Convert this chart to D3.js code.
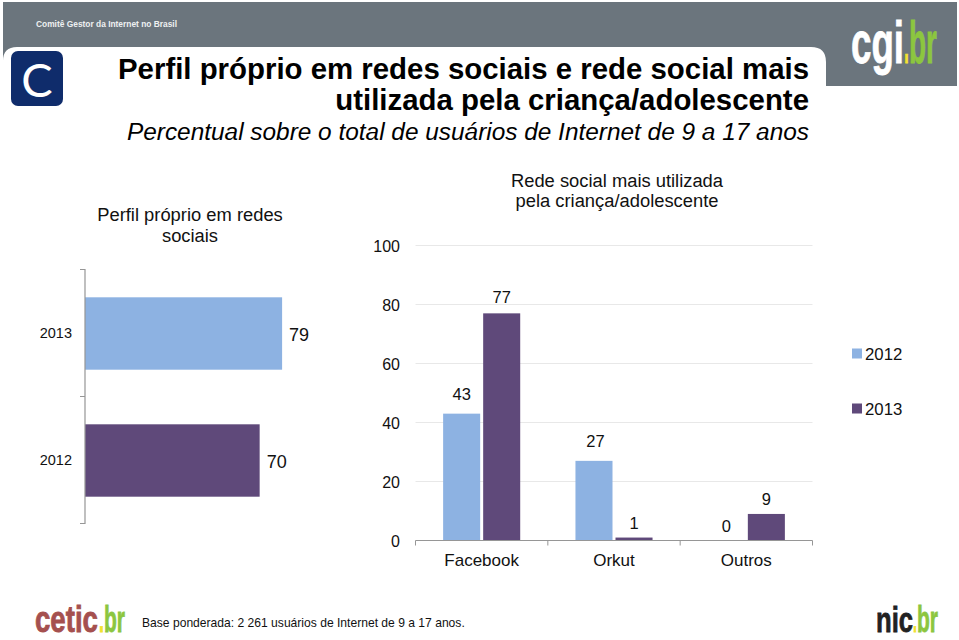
<!DOCTYPE html>
<html><head><meta charset="utf-8">
<script src="https://cdn.jsdelivr.net/npm/d3@7"></script>
<style>html,body{margin:0;padding:0;background:#fff}svg{display:block}text{font-family:"Liberation Sans",Arial,sans-serif;fill:#111}</style>
</head><body><svg id="c" width="959" height="640"></svg>
<script>
const barYears = ["2013","2012"];
const barValues = [79,70];
const networks = ["Facebook","Orkut","Outros"];
const series2012 = [43,27,0];
const series2013 = [77,1,9];
const legendYears = ["2012","2013"];
const yTicks = [0,20,40,60,80,100];
const lightBlue = "#8DB2E2", purple = "#5F497A", gray = "#6B757D";

const svg = d3.select("#c");
// header
svg.append("path").attr("fill",gray)
  .attr("d","M3,2H957V86H826V62Q826,47 811,47H17Q3,47 3,61Z");
svg.append("text").attr("x",36).attr("y",27).attr("font-size",8.4).attr("font-weight","bold")
  .style("fill","#eef0f1").text("Comitê Gestor da Internet no Brasil");
svg.append("rect").attr("x",11).attr("y",51).attr("width",52).attr("height",55).attr("rx",7).attr("fill","#0F2C6B");
svg.append("text").attr("x",37).attr("y",97).attr("text-anchor","middle").attr("font-size",47)
  .style("font-family","Lato").style("fill","#fff").text("C");
// logos: each part is its own text, squeezed to its width so the parts do not overlap
const logo=(parts,baseline,size)=>parts.forEach(p=>{
  const t=svg.append("text").attr("font-size",size).attr("font-weight","bold")
    .style("font-family","'Liberation Sans Narrow','Liberation Sans',sans-serif")
    .style("fill",p.c).style("stroke",p.c).style("stroke-width",0.8).text(p.t);
  const natural=t.node().getComputedTextLength();
  t.attr("transform",`translate(${p.x},${baseline}) scale(${p.w/natural},1)`);
});
logo([{t:"cgi",x:851,w:53,c:"#fff"},{t:".",x:904,w:5,c:"#F2E230"},{t:"br",x:909,w:28,c:"#8CC63F"}],63,59);
logo([{t:"cetic",x:35,w:63,c:"#A5504F"},{t:".",x:99,w:5,c:"#F2E230"},{t:"br",x:104,w:21,c:"#8CC63F"}],632,36);
logo([{t:"nic",x:876,w:37,c:"#222"},{t:".",x:913,w:4,c:"#F2E230"},{t:"br",x:917,w:21,c:"#8CC63F"}],632,36);

// titles
const title=[["Perfil próprio em redes sociais e rede social mais",79,29.4,"bold","normal"],
 ["utilizada pela criança/adolescente",110,29.4,"bold","normal"],
 ["Percentual sobre o total de usuários de Internet de 9 a 17 anos",140,24.4,"normal","italic"]];
title.forEach(d=>svg.append("text").attr("x",809).attr("y",d[1]).attr("text-anchor","end")
  .attr("font-size",d[2]).attr("font-weight",d[3]).attr("font-style",d[4]).style("fill","#000").text(d[0]));

// chart titles
[["Perfil próprio em redes",190,221],["sociais",190,242],
 ["Rede social mais utilizada",617,187],["pela criança/adolescente",617,207]].forEach(d=>
  svg.append("text").attr("x",d[1]).attr("y",d[2]).attr("text-anchor","middle").attr("font-size",18.35).text(d[0]));

// left chart
const xL = d3.scaleLinear().domain([0,100]).range([85,334.5]);
const yL = d3.scaleBand().domain(barYears).range([270,524]).paddingInner(0.43).paddingOuter(0.215);
const colorL = d3.scaleOrdinal().domain(barYears).range([lightBlue,purple]);
const gL = svg.append("g");
gL.selectAll("rect").data(barYears).join("rect")
  .attr("x",xL(0)).attr("y",d=>yL(d)).attr("height",yL.bandwidth())
  .attr("width",(d,i)=>xL(barValues[i])-xL(0)).attr("fill",d=>colorL(d));
const axL = d3.scaleBand().domain(barYears).range([269.5,523.5]);
gL.append("path").attr("fill","none").attr("stroke","#969696").attr("stroke-width",1.2)
  .attr("d",`M80,269.5H85V523.5H80M80,${axL("2012")}H85`);
gL.selectAll("text.cat").data(barYears).join("text").attr("class","cat")
  .attr("x",72).attr("y",d=>yL(d)+yL.bandwidth()/2+4.5).attr("text-anchor","end").attr("font-size",14.5).text(d=>d);
gL.selectAll("text.val").data(barYears).join("text").attr("class","val")
  .attr("x",(d,i)=>xL(barValues[i])+7).attr("y",d=>yL(d)+yL.bandwidth()/2+7).attr("font-size",18)
  .text((d,i)=>barValues[i]);

// right chart
const y = d3.scaleLinear().domain([0,100]).range([540.5,245.5]);
const x0 = d3.scaleBand().domain(networks).range([415.5,812.5]);
const x1 = d3.scaleBand().domain(legendYears).range([0,x0.bandwidth()]).paddingInner(0.075).paddingOuter(0.69);
const vals = {"2012":series2012,"2013":series2013};
const colorR = d3.scaleOrdinal().domain(legendYears).range([lightBlue,purple]);
const g = svg.append("g");
g.selectAll("line.grid").data(yTicks.slice(1)).join("line").attr("class","grid")
  .attr("x1",415.5).attr("x2",812.5).attr("y1",d=>y(d)).attr("y2",d=>y(d)).attr("stroke","#e8e8e8").attr("stroke-width",1);
g.selectAll("text.tick").data(yTicks).join("text").attr("class","tick")
  .attr("x",400).attr("y",d=>y(d)+6).attr("text-anchor","end").attr("font-size",16).text(d=>d);
// hand-placed data labels in the original: 43 and 27 sit higher than the rest
const labelLift = v => (v===43||v===27) ? 14 : (v===77 ? 10 : 9);
legendYears.forEach(s=>{
  networks.forEach((n,i)=>{
    const v=vals[s][i];
    const bx=x0(n)+x1(s);
    g.append("rect").attr("x",bx).attr("width",x1.bandwidth()).attr("y",y(v)).attr("height",y(0)-y(v)).attr("fill",colorR(s));
    g.append("text").attr("x",bx+x1.bandwidth()/2+(v===27?1.5:0)).attr("y",y(v)-labelLift(v)).attr("text-anchor","middle").attr("font-size",16.5).text(v);
  });
});
g.append("line").attr("x1",415.5).attr("x2",812.5).attr("y1",y(0)).attr("y2",y(0)).attr("stroke","#969696").attr("stroke-width",1.2);
g.selectAll("line.t").data([...networks.map(n=>x0(n)),x0.range()[1]]).join("line").attr("class","t")
  .attr("x1",d=>d).attr("x2",d=>d).attr("y1",y(0)).attr("y2",y(0)+5).attr("stroke","#969696");
g.selectAll("text.cat").data(networks).join("text").attr("class","cat")
  .attr("x",d=>x0(d)+x0.bandwidth()/2).attr("y",566).attr("text-anchor","middle").attr("font-size",17).text(d=>d);

// legend
const ly = d3.scalePoint().domain(legendYears).range([353.5,408.5]);
svg.selectAll("rect.lg").data(legendYears).join("rect").attr("class","lg")
  .attr("x",852).attr("y",d=>ly(d)-5).attr("width",10).attr("height",10).attr("fill",d=>colorR(d));
svg.selectAll("text.lg").data(legendYears).join("text").attr("class","lg")
  .attr("x",865).attr("y",d=>ly(d)+6).attr("font-size",16.8).text(d=>d);

// footer
svg.append("text").attr("x",142).attr("y",626.5).attr("font-size",12.1).text("Base ponderada: 2 261 usuários de Internet de 9 a 17 anos.");
</script></body></html>
